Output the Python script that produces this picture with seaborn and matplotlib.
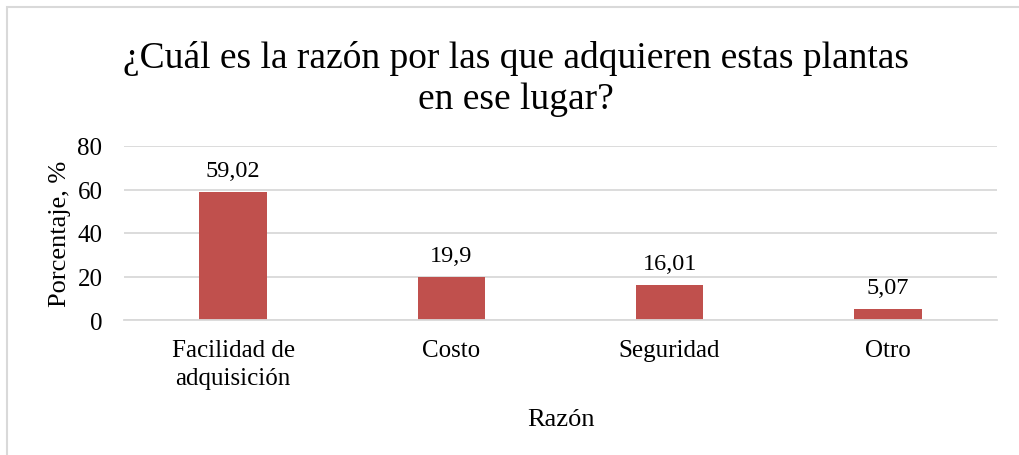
import matplotlib
matplotlib.use("Agg")
import matplotlib.pyplot as plt
import seaborn as sns
import pandas as pd
from matplotlib.patches import Rectangle

categories = ["Facilidad de\nadquisición", "Costo", "Seguridad", "Otro"]
values = [59.02, 19.9, 16.01, 5.07]
value_labels = ["59,02", "19,9", "16,01", "5,07"]
y_ticks = [0, 20, 40, 60, 80]

sns.set_theme(style="white")
plt.rcParams['font.family'] = ['Liberation Serif', 'DejaVu Serif']

df = pd.DataFrame({"Razón": categories, "Porcentaje": values})

fig = plt.figure(figsize=(10.19, 4.56), dpi=100)
ax = fig.add_axes([124/1019, 1-321/456, (997-124)/1019, (321-147)/456])

sns.barplot(data=df, x="Razón", y="Porcentaje", order=categories, color="#C0504D",
            saturation=1, width=0.31, ax=ax, edgecolor="none")

ax.set_ylim(0, 80)
ax.set_yticks(y_ticks)
ax.set_yticklabels([str(t) for t in y_ticks])
ax.yaxis.grid(True, color="#D9D9D9", linewidth=1.3)
ax.set_axisbelow(True)
for s in ["top", "right", "left"]:
    ax.spines[s].set_visible(False)
ax.spines["bottom"].set_color("#D9D9D9")
ax.spines["bottom"].set_linewidth(1.3)
ax.tick_params(axis="both", length=0, labelsize=18, colors="black")
ax.tick_params(axis="y", pad=15.5)
ax.tick_params(axis="x", pad=14)
for lbl in ax.get_xticklabels():
    lbl.set_linespacing(1.3)

ax.set_xlabel("Razón", fontsize=19, labelpad=14, color="black")
ax.set_ylabel("Porcentaje, %", fontsize=19, labelpad=4.5, color="black")

for p, txt in zip(ax.patches, value_labels):
    ax.annotate(txt, (p.get_x() + p.get_width() / 2, p.get_height()),
                xytext=(0, 8), textcoords="offset points",
                ha="center", va="bottom", fontsize=17.5, color="black")

fig.text(516/1019, 1-41/456, "¿Cuál es la razón por las que adquieren estas plantas\nen ese lugar?",
         ha="center", va="top", fontsize=27, linespacing=1.24, color="black")

fig.patches.append(Rectangle((7/1019, -0.1), 1.2, (1-8/456) + 0.1, transform=fig.transFigure,
                             fill=False, edgecolor="#D9D9D9", linewidth=1.5, zorder=0))

fig.savefig("out.png", dpi=100, facecolor="white")
